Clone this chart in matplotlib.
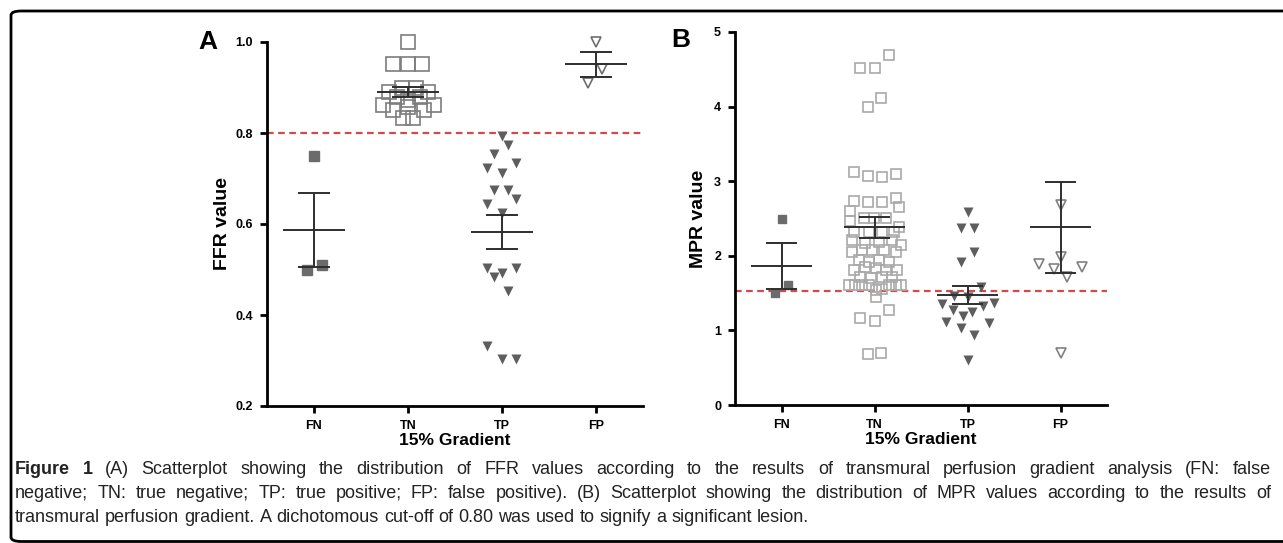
import matplotlib
matplotlib.use("Agg")
import matplotlib.pyplot as plt
from matplotlib.patches import FancyBboxPatch

plt.rcParams['font.family'] = ['Liberation Sans', 'DejaVu Sans']

groups = ['FN', 'TN', 'TP', 'FP']

# Panel A: FFR values (value, horizontal offset)
ffr_fn = [0.75, 0.50, 0.51]
ffr_fn_dx = [0.0, -0.075, 0.085]
ffr_tn = [1.00, 0.952, 0.952, 0.952, 0.900, 0.900, 0.891, 0.891,
          0.880, 0.880, 0.873, 0.861, 0.861, 0.858, 0.851, 0.851, 0.832, 0.832]
ffr_tn_dx = [0.0, -0.16, 0.0, 0.15, -0.067, 0.08, -0.2, 0.216,
             -0.12, 0.128, 0.0, -0.27, 0.28, 0.0, -0.16, 0.17, -0.05, 0.057]
ffr_tp = [0.793, 0.774, 0.754, 0.734, 0.723, 0.712, 0.675, 0.675, 0.655, 0.644,
          0.624, 0.503, 0.503, 0.492, 0.484, 0.453, 0.332, 0.303, 0.303]
ffr_tp_dx = [0.0, 0.067, -0.085, 0.15, -0.16, 0.0, -0.085, 0.067, 0.15, -0.16,
             0.0, -0.16, 0.15, 0.0, -0.085, 0.067, -0.16, 0.0, 0.15]
ffr_fp = [1.00, 0.94, 0.91]
ffr_fp_dx = [0.0, 0.065, -0.085]
ffr_mean = [0.587, 0.890, 0.582, 0.951]
ffr_sem = [0.081, 0.011, 0.037, 0.027]
ffr_cut = 0.80

# Panel B: MPR values
mpr_fn = [2.49, 1.50, 1.61]
mpr_fn_dx = [0.0, -0.075, 0.075]
mpr_tn = [4.69, 4.52, 4.52, 4.11, 4.00,
          3.13, 3.07, 3.06, 3.10, 2.74, 2.72, 2.72, 2.78, 2.60, 2.65,
          2.46, 2.50, 2.50, 2.50, 2.39,
          2.32, 2.32, 2.32, 2.32,
          2.21, 2.17, 2.19, 2.21, 2.15,
          2.05, 2.08, 2.08, 2.08, 2.05,
          1.94, 1.92, 1.94, 1.92,
          1.81, 1.85, 1.83, 1.81, 1.81,
          1.72, 1.70, 1.72, 1.72,
          1.61, 1.61, 1.61, 1.61, 1.61, 1.61, 1.61,
          1.54, 1.56,
          1.45, 1.28, 1.16, 1.12, 0.68, 0.70]
mpr_tn_dx = [0.151, -0.151, 0.0, 0.075, -0.075,
             -0.223, -0.072, 0.076, 0.227, -0.223, -0.072, 0.076, 0.227, -0.259, 0.263,
             -0.259, -0.115, -0.007, 0.119, 0.263,
             -0.223, -0.061, 0.083, 0.209,
             -0.241, -0.097, 0.047, 0.191, 0.28,
             -0.241, -0.133, -0.025, 0.101, 0.227,
             -0.169, -0.061, 0.047, 0.155,
             -0.223, -0.097, 0.011, 0.119, 0.245,
             -0.151, -0.043, 0.083, 0.191,
             -0.277, -0.205, -0.133, -0.061, 0.155, 0.227, 0.28,
             0.011, 0.083,
             0.011, 0.155, -0.151, 0.004, -0.075, 0.075]
mpr_tp = [2.59, 2.37, 2.37, 2.05, 1.92, 1.58, 1.45, 1.46, 1.35, 1.27,
          1.33, 1.37, 1.25, 1.19, 1.11, 1.10, 1.03, 0.94, 0.60]
mpr_tp_dx = [0.0, -0.075, 0.075, 0.075, -0.075, 0.15, 0.0, -0.15, -0.27, -0.16,
             0.17, 0.28, 0.05, -0.05, -0.23, 0.23, -0.075, 0.075, 0.0]
mpr_fp = [2.68, 1.98, 1.89, 1.82, 1.85, 1.72, 0.70]
mpr_fp_dx = [0.0, 0.0, -0.23, -0.075, 0.23, 0.075, 0.0]
mpr_mean = [1.86, 2.38, 1.475, 2.38]
mpr_sem = [0.31, 0.135, 0.12, 0.61]
mpr_cut = 1.53

caption = [
    "Figure 1 (A) Scatterplot showing the distribution of FFR values according to the results of "
    "transmural perfusion gradient analysis (FN: false",
    "negative; TN: true negative; TP: true positive; FP: false positive). (B) Scatterplot showing "
    "the distribution of MPR values according to the results of",
    "transmural perfusion gradient. A dichotomous cut-off of 0.80 was used to signify a significant lesion.",
]

W, H = 1283, 543
fig = plt.figure(figsize=(W / 100, H / 100), dpi=100)

# frame round the figure
frame = FancyBboxPatch((11 / W, 1.5 / H), 1.6, (532 - 1.5) / H,
                       boxstyle="round,pad=0,rounding_size=0.008",
                       transform=fig.transFigure, fill=False,
                       edgecolor='black', linewidth=2, clip_on=False)
fig.patches.append(frame)


def ytick_text(ticks):
    return [f"{t:.1f}" if isinstance(t, float) else str(t) for t in ticks]


def draw_panel(ax, data, mean, sem, cut, ylim, yticks, ylabel, sq_edge, tri_edge, ms_sq, ms_tri, ms_fill):
    (fn, fn_dx), (tn, tn_dx), (tp, tp_dx), (fp, fp_dx) = data
    ax.plot([0 + d for d in fn_dx], fn, 's', ms=ms_fill, color='#6b6b6b', mec='#6b6b6b',
            zorder=3, clip_on=False)
    ax.plot([1 + d for d in tn_dx], tn, 's', ms=ms_sq, mfc='none', mec=sq_edge, mew=1.2,
            zorder=2, clip_on=False)
    ax.plot([2 + d for d in tp_dx], tp, 'v', ms=ms_tri, color='#5e5e5e', mec='none',
            zorder=3, clip_on=False)
    ax.plot([3 + d for d in fp_dx], fp, 'v', ms=ms_tri, mfc='none', mec=tri_edge, mew=1.2,
            zorder=3, clip_on=False)

    for i, (m, s) in enumerate(zip(mean, sem)):
        ax.hlines(m, i - 0.33, i + 0.33, color='#2e2e2e', lw=1.4, zorder=4)
        ax.vlines(i, m - s, m + s, color='#2e2e2e', lw=1.4, zorder=4)
        ax.hlines([m - s, m + s], i - 0.17, i + 0.17, color='#2e2e2e', lw=1.4, zorder=4)

    ax.axhline(cut, color='#d24a4a', lw=1.6, ls=(0, (3, 2)), zorder=1)

    ax.set_xlim(-0.5, 3.5)
    ax.set_ylim(*ylim)
    ax.set_xticks(range(4))
    ax.set_xticklabels(groups, fontsize=9, fontweight='bold')
    ax.set_yticks(yticks)
    ax.set_yticklabels(ytick_text(yticks), fontsize=9, fontweight='bold')
    ax.tick_params(direction='out', length=5, width=2, pad=5)
    for side in ['top', 'right']:
        ax.spines[side].set_visible(False)
    for side in ['left', 'bottom']:
        ax.spines[side].set_linewidth(2)
    ax.set_ylabel(ylabel, fontsize=14, fontweight='bold')
    ax.set_xlabel('15% Gradient', fontsize=12.5, fontweight='bold', labelpad=1)


axA = fig.add_axes([267 / W, 1 - 406 / H, (643 - 267) / W, (406 - 42) / H])
draw_panel(axA,
           [(ffr_fn, ffr_fn_dx), (ffr_tn, ffr_tn_dx), (ffr_tp, ffr_tp_dx), (ffr_fp, ffr_fp_dx)],
           ffr_mean, ffr_sem, ffr_cut, (0.2, 1.0), [0.2, 0.4, 0.6, 0.8, 1.0], 'FFR value',
           '#7d7d7d', '#6e6e6e', 9.5, 7.5, 6.5)
axA.yaxis.set_label_coords(-0.097, 0.5)

axB = fig.add_axes([735 / W, 1 - 405 / H, (1107 - 735) / W, (405 - 32) / H])
draw_panel(axB,
           [(mpr_fn, mpr_fn_dx), (mpr_tn, mpr_tn_dx), (mpr_tp, mpr_tp_dx), (mpr_fp, mpr_fp_dx)],
           mpr_mean, mpr_sem, mpr_cut, (0, 5), [0, 1, 2, 3, 4, 5], 'MPR value',
           '#a9a9a9', '#808080', 7.5, 7.0, 6.0)
axB.yaxis.set_label_coords(-0.075, 0.5)

fig.text(208 / W, 1 - 42 / H, 'A', fontsize=19, fontweight='bold', ha='center', va='center')
fig.text(681 / W, 1 - 40 / H, 'B', fontsize=19, fontweight='bold', ha='center', va='center')

# caption: first two lines justified to the right edge, the last one left as is
renderer = fig.canvas.get_renderer()
cap_size = 13
x_left, x_right = 15, 1271
line_y = [470, 494, 517]
space_px = cap_size * 100 / 72 * 0.278

for n, (line, py) in enumerate(zip(caption, line_y)):
    words = line.split(' ')
    texts = []
    for k, w in enumerate(words):
        weight = 'bold' if (n == 0 and k < 2) else 'normal'
        texts.append(fig.text(0, 1 - py / H, w, fontsize=cap_size, fontweight=weight,
                              ha='left', va='center', color='#222222'))
    widths = [t.get_window_extent(renderer).width for t in texts]
    if n < 2:
        gap = (x_right - x_left - sum(widths)) / (len(words) - 1)
    else:
        gap = space_px
    x = x_left
    for t, wd in zip(texts, widths):
        t.set_x(x / W)
        x += wd + gap

fig.savefig('out.png', dpi=100)
